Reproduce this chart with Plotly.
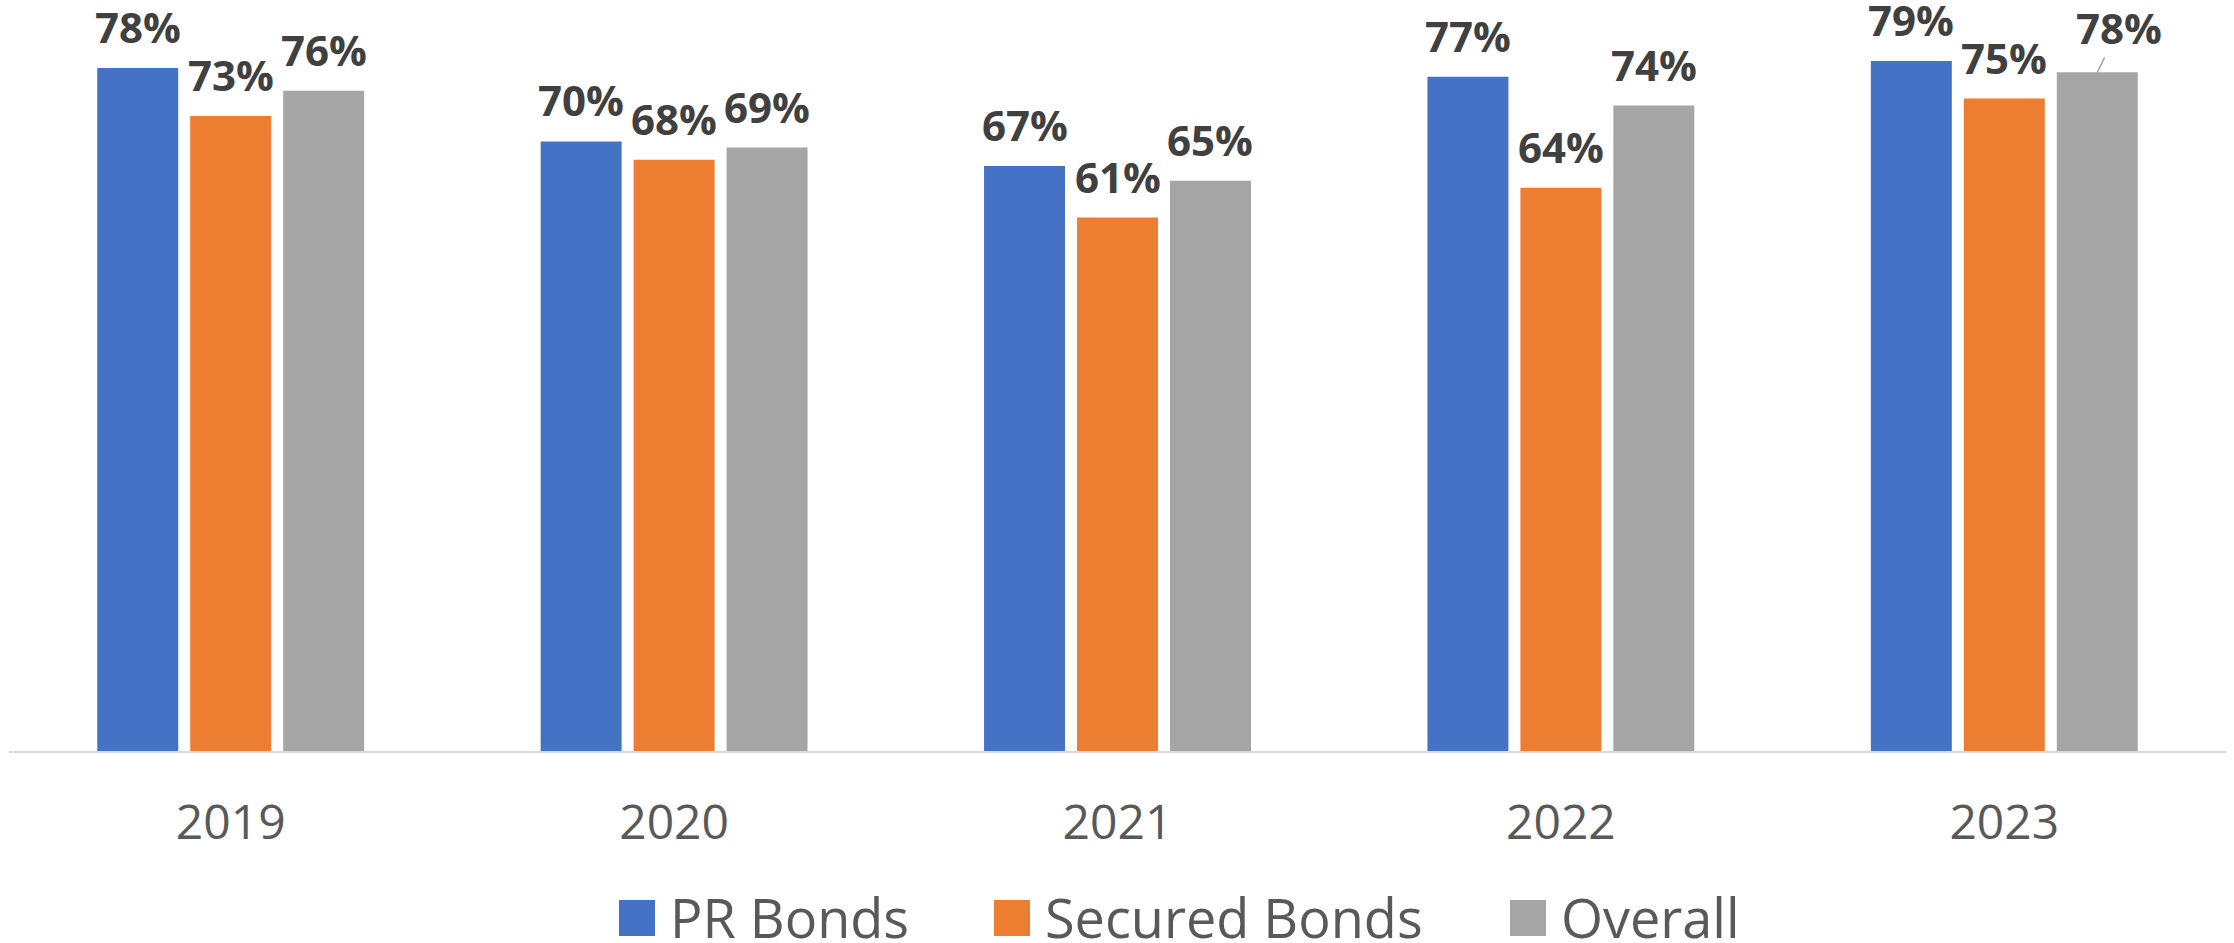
import plotly.graph_objects as go

# ---- data ----
years = ["2019", "2020", "2021", "2022", "2023"]
series_names = ["PR Bonds", "Secured Bonds", "Overall"]
pr_bonds = [0.781, 0.697, 0.669, 0.771, 0.789]
secured_bonds = [0.726, 0.676, 0.610, 0.644, 0.746]
overall = [0.755, 0.690, 0.652, 0.738, 0.776]
colors = ["#4472C4", "#ED7D31", "#A5A5A5"]

series_values = [pr_bonds, secured_bonds, overall]

W, H = 2234, 943
ML, MR, MT, MB = 9, 8, 8, 192
plot_w = W - ML - MR
plot_h = H - MT - MB
BARGAP = 0.371
BARGROUPGAP = 0.129
cat_px = plot_w / len(years)
slot_px = cat_px * (1 - BARGAP) / len(series_names)

fig = go.Figure()
for name, vals, col in zip(series_names, series_values, colors):
    fig.add_trace(go.Bar(
        name=name, x=years, y=vals, marker=dict(color=col, line=dict(width=0)),
        showlegend=False, hoverinfo="x+y",
    ))

label_font = dict(family="Open Sans", size=42, color="#404040", weight="bold")
annotations = []
for k, vals in enumerate(series_values):
    for i, v in enumerate(vals):
        txt = f"<b>{round(v * 100):.0f}%</b>"
        if k == 2 and i == len(years) - 1:
            annotations.append(dict(
                x=i, y=v, xref="x", yref="y", text=txt, font=label_font,
                xshift=(k - 1) * slot_px, showarrow=True, arrowhead=0,
                arrowwidth=1.5, arrowcolor="#A5A5A5", ax=22, ay=-45, standoff=0,
            ))
        else:
            annotations.append(dict(
                x=i, y=v, xref="x", yref="y", text=txt, font=label_font,
                xshift=(k - 1) * slot_px, yanchor="bottom", yshift=11, showarrow=False,
            ))

# custom legend (large square swatches), page pixel positions
leg_sq_x = [619, 994, 1510]
leg_txt_x = [668, 1043, 1559]
sq = 36
sq_top, sq_bot = 900, 936
def px_to_paper_x(px):
    return (px - ML) / plot_w
def py_to_paper_y(py):
    return (MT + plot_h - py) / plot_h

shapes = []
for name, col, sx, tx in zip(series_names, colors, leg_sq_x, leg_txt_x):
    shapes.append(dict(
        type="rect", xref="paper", yref="paper",
        x0=px_to_paper_x(sx), x1=px_to_paper_x(sx + sq),
        y0=py_to_paper_y(sq_bot), y1=py_to_paper_y(sq_top),
        fillcolor=col, line=dict(width=0),
    ))
    annotations.append(dict(
        x=px_to_paper_x(tx), y=py_to_paper_y((sq_top + sq_bot) / 2 - 1),
        xref="paper", yref="paper", text=name, showarrow=False,
        xanchor="left", yanchor="middle",
        font=dict(family="Open Sans", size=54, color="#595959"),
    ))

fig.update_layout(
    width=W, height=H,
    margin=dict(l=ML, r=MR, t=MT, b=MB, pad=0),
    paper_bgcolor="white", plot_bgcolor="white",
    barmode="group", bargap=BARGAP, bargroupgap=BARGROUPGAP,
    showlegend=False,
    annotations=annotations, shapes=shapes,
    xaxis=dict(
        type="category", range=[-0.5, len(years) - 0.5], autorange=False,
        showgrid=False, showline=True, linecolor="#D9D9D9",
        linewidth=2, ticks="", tickfont=dict(family="Open Sans", size=48, color="#595959"),
        ticklabelstandoff=28, zeroline=False,
    ),
    yaxis=dict(
        range=[0, 0.8496], visible=False, showgrid=False, zeroline=False,
    ),
)

fig.write_html("out.html", config={"displayModeBar": False},
               post_script="document.body.style.margin='0';")
